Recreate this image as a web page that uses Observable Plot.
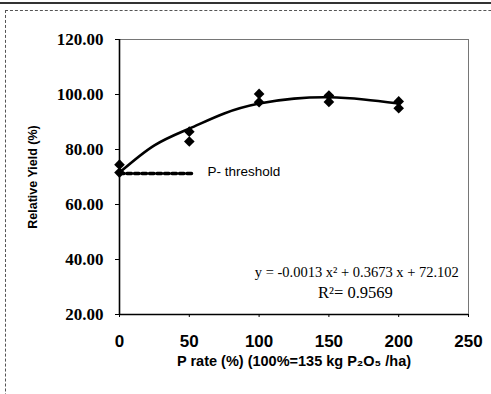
<!DOCTYPE html>
<html><head><meta charset="utf-8">
<script src="https://cdn.jsdelivr.net/npm/d3@7"></script>
<script src="https://cdn.jsdelivr.net/npm/@observablehq/plot@0.6"></script>
<style>
body{margin:0;background:#fff;overflow:hidden}
#wrap{position:relative;width:491px;height:394px;overflow:hidden}
.pageframe{position:absolute;left:5px;top:10px;width:600px;height:500px;border-left:1px dashed #555;border-top:1px dashed #555}
.topline{position:absolute;left:0;top:2px;width:491px;border-top:2px solid #333}
</style></head><body>
<div id="wrap"></div>
<script>
// Observations (P rate %, relative yield %)
const pRate = [0, 0, 50, 50, 100, 100, 150, 150, 200, 200];
const relYield = [74.5, 71.6, 86.5, 82.9, 100.2, 97.2, 99.6, 97.3, 97.5, 95.0];
// Fitted trend line
const curveX = [0, 25, 50, 75, 100, 125, 150, 175, 200];
const curveY = [71.6, 81.5, 87.6, 93.1, 96.7, 98.5, 99.0, 98.2, 96.7];
// P threshold
const thresholdX = [0, 52];
const thresholdY = 71.3;
const thresholdLabel = "P- threshold";
// Axes
const xTicks = [0, 50, 100, 150, 200, 250];
const yTicks = [20, 40, 60, 80, 100, 120];
const xTitle = "P rate (%) (100%=135 kg P\u2082O\u2085 /ha)";
const yTitle = "Relative Yield (%)";
const equation = "y = -0.0013 x\u00B2 + 0.3673 x + 72.102";
const rSquared = "R\u00B2= 0.9569";

const points = pRate.map((x, i) => ({x, y: relYield[i]}));
const curve = curveX.map((x, i) => ({x, y: curveY[i]}));
const threshold = thresholdX.map(x => ({x, y: thresholdY}));

const serif = "'Liberation Serif', 'Times New Roman', serif";
const sans = "'Liberation Sans', Arial, sans-serif";

const chart = Plot.plot({
  width: 491,
  height: 394,
  marginLeft: 119,
  marginRight: 23,
  marginTop: 39,
  marginBottom: 80,
  style: {background: "transparent", overflow: "visible"},
  x: {domain: [0, 250]},
  y: {domain: [20, 120]},
  marks: [
    Plot.frame({stroke: "#555", strokeWidth: 0.8}),
    Plot.ruleX([0], {stroke: "black", strokeWidth: 1.6}),
    Plot.ruleY([20], {stroke: "black", strokeWidth: 1.6}),
    Plot.axisY(yTicks, {tickSize: 4, tickPadding: 12, tickFormat: d => d.toFixed(2),
      fontFamily: serif, fontSize: 17, fontWeight: "bold", label: null, fill: "black"}),
    Plot.axisX(xTicks, {tickSize: 3, tickPadding: 17, tickFormat: d => String(d),
      fontFamily: sans, fontSize: 17, fontWeight: "bold", label: null, fill: "black"}),
    Plot.text([xTitle], {frameAnchor: "bottom", dy: 51, fontFamily: sans, fontSize: 14.5, fontWeight: "bold", fill: "black"}),
    Plot.text([yTitle], {frameAnchor: "left", textAnchor: "middle", dx: -87, rotate: -90, fontFamily: sans, fontSize: 12.5, fontWeight: "bold", fill: "black"}),
    Plot.line(threshold, {x: "x", y: "y", stroke: "black", strokeWidth: 3.5, strokeDasharray: "4.5,3"}),
    Plot.text([thresholdLabel], {x: 63, y: thresholdY + 0.8, textAnchor: "start", fontFamily: sans, fontSize: 13.5, fill: "black"}),
    Plot.line(curve, {x: "x", y: "y", curve: "natural", stroke: "black", strokeWidth: 2.6}),
    Plot.dot(points, {x: "x", y: "y", symbol: "diamond2", r: 4.8, fill: "black", stroke: "none"}),
    Plot.text([equation], {x: 170, y: 35.3, fontFamily: serif, fontSize: 14.5, letterSpacing: "-0.5px", fill: "black"}),
    Plot.text([rSquared], {x: 169, y: 28, fontFamily: serif, fontSize: 16.5, fill: "black"})
  ]
});
const wrap = document.getElementById("wrap");
wrap.appendChild(chart);
const tl = document.createElement("div"); tl.className = "topline"; wrap.appendChild(tl);
const pf = document.createElement("div"); pf.className = "pageframe"; wrap.appendChild(pf);
</script>
</body></html>
